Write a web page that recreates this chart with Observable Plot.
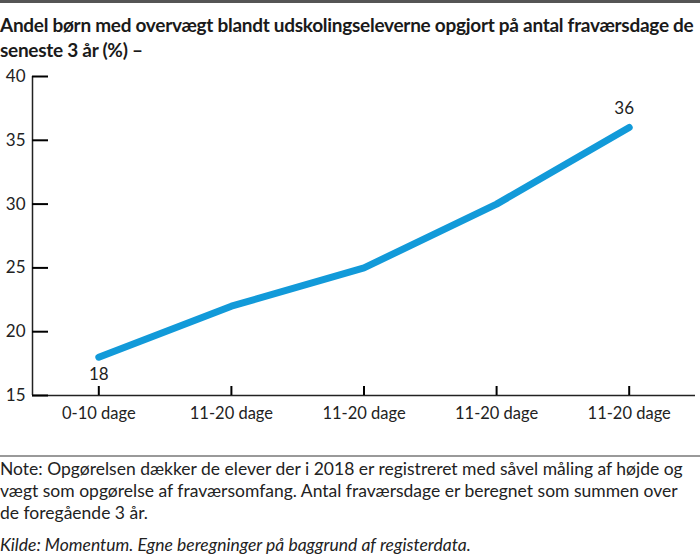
<!DOCTYPE html>
<html><head><meta charset="utf-8">
<script src="https://cdn.jsdelivr.net/npm/d3@7"></script>
<script src="https://cdn.jsdelivr.net/npm/@observablehq/plot@0.6"></script>
<style>
body{margin:0;background:#fff;font-family:Lato,"Open Sans",sans-serif;color:#1a1a1a;width:700px;overflow:hidden}
#top{height:3px;background:#555;}
#title{font-weight:bold;font-size:19px;line-height:25px;margin:9px 0 0 0;white-space:nowrap;letter-spacing:-0.28px}
#chart{margin-top:0;height:380px}
#rule{height:2px;background:#999;margin-top:13px}
#note{font-size:17.5px;line-height:22px;margin-top:1px;color:#222;white-space:nowrap}
#src{font-size:17.5px;line-height:22px;font-style:italic;margin-top:10px;color:#222;white-space:nowrap}
</style></head>
<body>
<div id="top"></div>
<div id="title">Andel børn med overvægt blandt udskolingseleverne opgjort på antal fraværsdage de<br>seneste 3 år (%) –</div>
<div id="chart"></div>
<div id="rule"></div>
<div id="note">Note: Opgørelsen dækker de elever der i 2018 er registreret med såvel måling af højde og<br>vægt som opgørelse af fraværsomfang. Antal fraværsdage er beregnet som summen over<br>de foregående 3 år.</div>
<div id="src">Kilde: Momentum. Egne beregninger på baggrund af registerdata.</div>
<script>
const categories = ["0-10 dage","11-20 dage","11-20 dage","11-20 dage","11-20 dage"];
const values = [18, 22, 25, 30, 36];
const yTicks = [15, 20, 25, 30, 35, 40];
const labelledPoints = [0, 4];

const data = categories.map((c, i) => ({key: i, label: c, value: values[i]}));
const labelData = labelledPoints.map(i => data[i]);
const font = "Lato, 'Open Sans', sans-serif";

const W = 700, H = 380, mL = 32, mR = 5, mT = 14, mB = 47;
const xDomain = [-0.5, categories.length - 0.5];
const yDomain = [yTicks[0], yTicks[yTicks.length - 1]];
const xPerPx = (xDomain[1] - xDomain[0]) / (W - mL - mR);
const yPerPx = (yDomain[1] - yDomain[0]) / (H - mT - mB);

const chart = Plot.plot({
  width: W,
  height: H,
  marginLeft: mL,
  marginRight: mR,
  marginTop: mT,
  marginBottom: mB,
  style: {fontFamily: font, fontSize: "16px", color: "#222", background: "#fff"},
  x: {type: "linear", domain: xDomain, label: null, axis: null},
  y: {domain: yDomain, label: null, axis: null},
  marks: [
    Plot.ruleX([xDomain[0]], {stroke: "#222", strokeWidth: 1.5}),
    Plot.ruleY([yDomain[0]], {stroke: "#222", strokeWidth: 1.5}),
    Plot.axisY({ticks: yTicks, tickSize: 0, tickPadding: 7, fontSize: 17, fill: "#222", label: null}),
    Plot.axisX({ticks: data.map(d => d.key), tickSize: 0, tickPadding: 12, tickFormat: i => categories[i], fontSize: 16.5, fill: "#222", label: null}),
    Plot.line(data, {x: "key", y: "value", stroke: "#129ad9", strokeWidth: 7, strokeLinecap: "round", strokeLinejoin: "round"}),
    // inward tick marks
    Plot.ruleY(yTicks, {y: d => d, x1: xDomain[0], x2: xDomain[0] + 16 * xPerPx, stroke: "black", strokeWidth: 2}),
    Plot.ruleX(data, {x: "key", y1: yDomain[0], y2: yDomain[0] + 9 * yPerPx, stroke: "black", strokeWidth: 2}),
    Plot.text(labelData.filter(d => d.key === 0), {x: "key", y: "value", text: d => String(d.value), dy: 17, fontSize: 17, fill: "#222"}),
    Plot.text(labelData.filter(d => d.key !== 0), {x: "key", y: "value", text: d => String(d.value), dy: -19, dx: -5, fontSize: 17, fill: "#222"})
  ]
});
document.getElementById("chart").appendChild(chart);
</script>
</body></html>
